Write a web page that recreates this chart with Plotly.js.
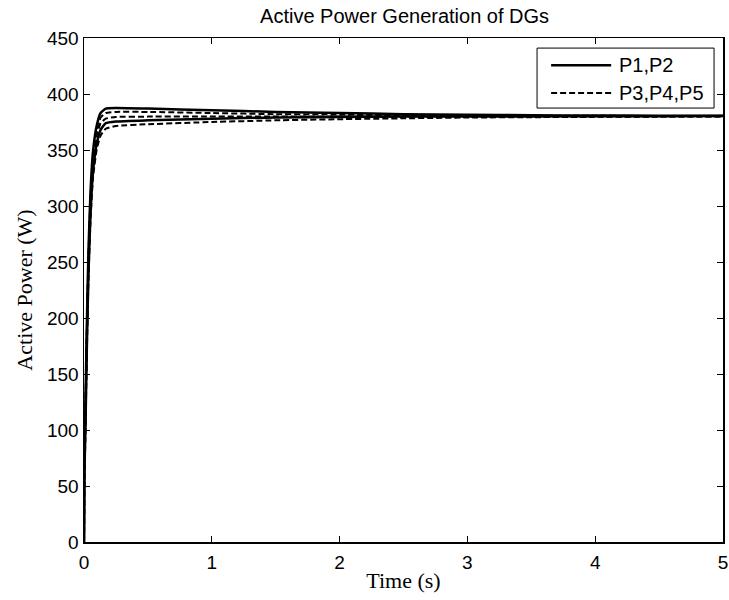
<!DOCTYPE html>
<html><head><meta charset="utf-8">
<script src="https://cdn.plot.ly/plotly-3.0.1.min.js"></script>
<style>html,body{margin:0;padding:0;background:#fff}#plot{width:729px;height:600px}</style>
</head><body><div id="plot"></div>
<script>
const time = [0, 0.003, 0.01, 0.02, 0.025, 0.035, 0.05, 0.07, 0.1, 0.13, 0.17, 0.25, 0.5, 1, 1.5, 2, 2.5, 3, 3.5, 4, 4.5, 5];
const P1 = [0, 80, 115, 180, 210, 260, 310, 348, 372, 383, 387, 387.5, 387, 385.5, 384, 383, 382, 381.5, 381, 380.8, 380.6, 380.5];
const P2 = [0, 60, 95, 160, 190, 240, 290, 330, 356, 368, 374, 375.5, 376.5, 378, 379, 379.5, 379.8, 380, 380, 380.2, 380.2, 380.3];
const P3 = [0, 75, 110, 175, 205, 255, 305, 343, 368, 379, 383, 384, 384, 383, 382, 381.5, 381, 380.8, 380.6, 380.5, 380.4, 380.3];
const P4 = [0, 70, 105, 170, 200, 250, 300, 338, 363, 374, 378, 379.5, 379.8, 380, 380, 380, 380, 380, 380, 380, 380, 380];
const P5 = [0, 55, 90, 155, 185, 235, 285, 325, 351, 363, 369, 371.5, 373, 375, 376.5, 377.5, 378.3, 379, 379.3, 379.6, 379.8, 380];
const seriesNames = ['P1,P2', 'P3,P4,P5'];
const xTicks = [0, 1, 2, 3, 4, 5];
const yTicks = [0, 50, 100, 150, 200, 250, 300, 350, 400, 450];

const SOLID_W = 2.5, DASH_W = 2, DASH = '6px,3px';
function tr(y, dashed, show) {
  return {
    x: time, y: y, type: 'scatter', mode: 'lines',
    line: {color: '#000', width: dashed ? DASH_W : SOLID_W, dash: dashed ? DASH : 'solid', shape: 'spline', smoothing: 0.4},
    name: dashed ? seriesNames[1] : seriesNames[0],
    legendgroup: dashed ? 'd' : 's', showlegend: false
  };
}
const data = [tr(P1, false), tr(P3, true), tr(P4, true), tr(P2, false), tr(P5, true)];

const axisCommon = {
  showline: true, linecolor: '#000', linewidth: 1.5, mirror: 'ticks',
  ticks: 'inside', ticklen: 6, tickcolor: '#000', tickwidth: 1,
  showgrid: false, zeroline: false,
  tickfont: {family: 'Liberation Sans, Arial, sans-serif', size: 19, color: '#000'}
};

// legend box drawn in the axes' domain coordinates
const lg = {x0: 0.709, x1: 0.986, y0: 0.861, y1: 0.980, lx0: 0.731, lx1: 0.825, tx: 0.834, rows: [0.946, 0.891]};
const shapes = [
  {type: 'rect', xref: 'x domain', yref: 'y domain', x0: lg.x0, x1: lg.x1, y0: lg.y0, y1: lg.y1,
   line: {color: '#000', width: 1}, fillcolor: '#fff', layer: 'above'},
  {type: 'line', xref: 'x domain', yref: 'y domain', x0: lg.lx0, x1: lg.lx1, y0: lg.rows[0], y1: lg.rows[0],
   line: {color: '#000', width: SOLID_W}, layer: 'above'},
  {type: 'line', xref: 'x domain', yref: 'y domain', x0: lg.lx0, x1: lg.lx1, y0: lg.rows[1], y1: lg.rows[1],
   line: {color: '#000', width: DASH_W, dash: DASH}, layer: 'above'}
];
const annotations = seriesNames.map((n, i) => ({
  xref: 'x domain', yref: 'y domain', x: lg.tx, y: lg.rows[i], xanchor: 'left', yanchor: 'middle',
  text: n, showarrow: false, font: {family: 'Liberation Sans, Arial, sans-serif', size: 20, color: '#000'}
}));

const layout = {
  width: 729, height: 600,
  margin: {l: 84, r: 6, t: 38, b: 58},
  paper_bgcolor: '#fff', plot_bgcolor: '#fff',
  title: {text: 'Active Power Generation of DGs', font: {family: 'Liberation Sans, Arial, sans-serif', size: 20, color: '#000'}, x: 0.555, xanchor: 'center', y: 0.985, yanchor: 'top'},
  xaxis: Object.assign({}, axisCommon, {range: [0, 5], tickvals: xTicks, ticktext: xTicks.map(String), ticklabelstandoff: 3,
    title: {text: 'Time (s)', font: {family: 'Liberation Serif, Times New Roman, serif', size: 22, color: '#000'}, standoff: 0}}),
  yaxis: Object.assign({}, axisCommon, {range: [0, 450], tickvals: yTicks, ticktext: yTicks.map(String),
    title: {text: 'Active Power (W)', font: {family: 'Liberation Serif, Times New Roman, serif', size: 22, color: '#000'}, standoff: 8}}),
  showlegend: false,
  shapes: shapes,
  annotations: annotations
};
Plotly.newPlot('plot', data, layout, {displayModeBar: false, staticPlot: true});
</script></body></html>
